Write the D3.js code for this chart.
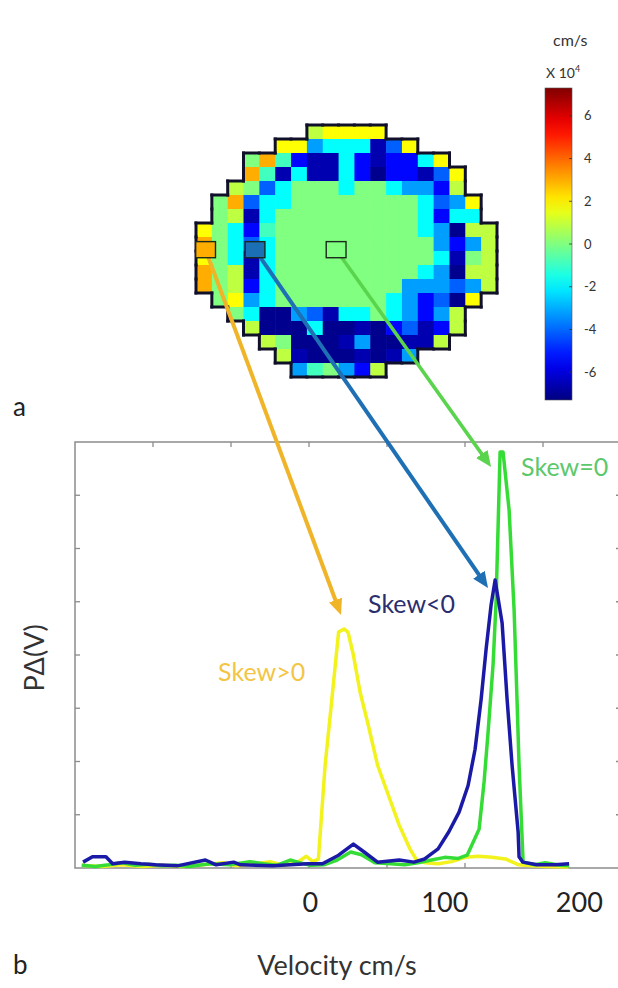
<!DOCTYPE html>
<html lang="en">
<head>
<meta charset="UTF-8">
<title>Velocity skew map</title>
<script src="https://d3js.org/d3.v7.min.js"></script>
<style>
  body { margin: 0; background: #fff; }
  svg { font-family: Lato, "Open Sans", sans-serif; }
</style>
</head>
<body>
<svg id="fig" width="618" height="988"></svg>
<script>
// ---- panel a: velocity map, values x 10^4 cm/s, null = outside the vessel ----
const N = null;
const mapRows = [
  [N,N,N,N,N,N,N,0.9,1.8,1.8,1.8,1.8,N,N,N,N,N,N,N],
  [N,N,N,N,N,1.8,1.8,-3.2,-1.8,-1.8,-1.8,-6.6,-4.1,1.8,N,N,N,N,N],
  [N,N,N,0,3,-0.9,-5.4,-6.6,-6.6,-1.8,-5.4,-6.6,-5.4,-5.4,-1.8,1.8,N,N,N],
  [N,N,N,3,-0.9,-6.6,-1.8,-6.6,-6.6,-1.8,-5.4,-7.1,-5.4,-5.4,-6.6,-4.1,1.8,N,N],
  [N,N,0.9,0,-4.1,-1.8,0,0,0,-1.8,0,0,-1.8,-3.2,-3.2,-5.4,0.9,N,N],
  [N,0,3,-4.1,-1.8,-1.8,0,0,0,0,0,0,0,0,-1.8,-4.1,-3.2,1.8,N],
  [N,0,0.9,-6.6,-1.8,0,0,0,0,0,0,0,0,0,-1.8,-5.4,-1.8,-1.8,N],
  [1.8,0,-1.8,-5.4,-0.9,0,0,0,0,0,0,0,0,0,-1.8,-3.2,-7.1,0.9,0.9],
  [3,0,-1.8,-4.1,-1.8,0,0,0,0,0,0,0,0,0,0,-3.2,-5.4,-3.2,0.9],
  [1.8,0,-1.8,-6.6,-1.8,0,0,0,0,0,0,0,0,0,0,-1.8,-6.6,0,0.9],
  [3,0,0.9,-6.6,-1.8,0,0,0,0,0,0,0,0,0,-1.8,-3.2,-7.1,0.9,0.9],
  [3,0,0.9,-5.4,-1.8,0,0,0,0,0,0,0,0,-3.2,-3.2,-3.2,-4.1,-3.2,0.9],
  [N,0,1.8,-3.2,-1.8,0,0,0,0,0,0,0,-1.8,-3.2,-5.4,-4.1,-7.1,1.8,N],
  [N,N,0,-1.8,-7.1,-7.1,-3.2,-4.1,-6.6,-1.8,-1.8,0,-1.8,-3.2,-5.4,-3.2,0.9,N,N],
  [N,N,N,0.9,-7.1,-7.1,-7.1,-1.8,-7.1,-7.1,-6.6,-7.1,-5.4,-4.1,-6.6,-5.4,0.9,N,N],
  [N,N,N,N,0.9,0,-7.1,-7.1,-7.1,-6.6,-3.2,-7.1,-7.1,-6.6,-6.6,0.9,N,N,N],
  [N,N,N,N,N,0.9,-6.6,-7.1,-7.1,-7.1,-6.6,-7.1,-6.6,-3.2,N,N,N,N,N],
  [N,N,N,N,N,N,-3.2,-0.9,0,-3.2,-5.4,0.9,N,N,N,N,N,N,N]
];
const colorTicks = [-6, -4, -2, 0, 2, 4, 6];
const colorDomain = [-7.3, 7.3];

// probe cells (grid col/row of box centre, value shown in the box)
const probes = [
  { name: "pos",  col: 0.6,  row: 8.9, value: 3.0 },
  { name: "neg",  col: 3.72, row: 8.9, value: -3.7 },
  { name: "zero", col: 8.84, row: 8.9, value: 0 }
];

// ---- panel b: P(V) curves, [velocity cm/s, P] ----
const skewPos = [
  [-170,0.05],[-155,0.03],[-140,0.06],[-125,0.03],[-110,0.05],[-95,0.03],[-80,0.06],[-65,0.1],
  [-55,0.04],[-40,0.08],[-30,0.12],[-20,0.05],[-10,0.1],[-3,0.22],[2,0.12],[6,0.17],[11,1.93],
  [16,3.17],[21,4.43],[25,4.49],[28,4.43],[32,4.0],[37,3.3],[43,2.69],[50,1.93],[59,1.3],
  [66,0.81],[74,0.36],[79,0.15],[85,0.1],[95,0.08],[105,0.12],[115,0.2],[125,0.22],[135,0.2],
  [145,0.17],[155,0.06],[165,0.04],[175,0.03],[192,0.02]
];
const skewNeg = [
  [-169,0.11],[-162,0.21],[-152,0.21],[-147,0.08],[-138,0.11],[-126,0.08],[-115,0.06],[-99,0.04],
  [-78,0.15],[-70,0.06],[-57,0.11],[-52,0.06],[-28,0.04],[-2,0.08],[9,0.08],[21,0.24],[32,0.45],
  [40,0.3],[50,0.11],[66,0.15],[77,0.11],[85,0.17],[95,0.36],[103,0.68],[110.6,1.05],[117.3,1.55],
  [122.5,2.23],[127,3.17],[130.7,4.11],[134.4,4.94],[137.4,5.41],[142.6,4.6],[146.3,3.17],
  [150,1.93],[154.5,0.68],[155.2,0.21],[158,0.11],[168.6,0.06],[182,0.06],[192.4,0.08]
];
const skewZero = [
  [-170,0.05],[-160,0.03],[-150,0.06],[-140,0.1],[-130,0.05],[-120,0.07],[-110,0.04],[-100,0.05],
  [-90,0.03],[-75,0.08],[-60,0.06],[-45,0.12],[-35,0.08],[-25,0.05],[-15,0.15],[-8,0.1],[0,0.05],
  [10,0.06],[20,0.15],[30,0.3],[38,0.25],[48,0.1],[60,0.08],[70,0.06],[80,0.1],[90,0.15],
  [100,0.2],[110,0.18],[116.6,0.24],[125.5,0.73],[129.2,1.62],[132.2,2.56],[135.9,3.83],
  [138.1,5.0],[141.1,7.81],[143.3,7.81],[147.8,6.72],[151.5,4.85],[153.7,3.15],[155.2,1.93],
  [158.2,0.11],[167,0.06],[174.6,0.1],[185.7,0.05],[192.4,0.04]
];
const velocityTicks = [0, 100, 200];

const svg = d3.select("#fig");
svg.append("rect").attr("width", 618).attr("height", 988).attr("fill", "#fff");

// jet colour map
const jet = d3.scaleLinear()
  .domain([0, 0.125, 0.375, 0.625, 0.875, 1])
  .range(["#000080", "#0000ff", "#00ffff", "#ffff00", "#ff0000", "#800000"]);
const cNorm = d3.scaleLinear().domain(colorDomain).range([0, 1]).clamp(true);
const color = v => jet(cNorm(v));

// map grid
const nRows = mapRows.length, nCols = mapRows[0].length;
const xCell = d3.scaleLinear().domain([0, nCols]).range([196, 497]);
const yCell = d3.scaleLinear().domain([0, nRows]).range([125, 377]);
const cells = [];
mapRows.forEach((row, r) => row.forEach((v, c) => { if (v !== null) cells.push({ r, c, v }); }));

svg.append("g").selectAll("rect").data(cells).join("rect")
  .attr("x", d => xCell(d.c)).attr("y", d => yCell(d.r))
  .attr("width", xCell(1) - xCell(0) + 0.6).attr("height", yCell(1) - yCell(0) + 0.6)
  .attr("fill", d => color(d.v));

// vessel outline from the empty neighbours
const inside = (r, c) => r >= 0 && r < nRows && c >= 0 && c < nCols && mapRows[r][c] !== null;
const edges = [];
cells.forEach(({ r, c }) => {
  if (!inside(r - 1, c)) edges.push([c, r, c + 1, r]);
  if (!inside(r + 1, c)) edges.push([c, r + 1, c + 1, r + 1]);
  if (!inside(r, c - 1)) edges.push([c, r, c, r + 1]);
  if (!inside(r, c + 1)) edges.push([c + 1, r, c + 1, r + 1]);
});
svg.append("g").selectAll("line").data(edges).join("line")
  .attr("x1", d => xCell(d[0])).attr("y1", d => yCell(d[1]))
  .attr("x2", d => xCell(d[2])).attr("y2", d => yCell(d[3]))
  .attr("stroke", "#10102a").attr("stroke-width", 3).attr("stroke-linecap", "square");

// colour bar
const cb = { x: 545, w: 27 };
const cbScale = d3.scaleLinear().domain(colorDomain).range([400, 88]);
const defs = svg.append("defs");
const grad = defs.append("linearGradient").attr("id", "jet")
  .attr("x1", 0).attr("y1", 1).attr("x2", 0).attr("y2", 0);
grad.selectAll("stop").data(d3.range(0, 1.0001, 0.05)).join("stop")
  .attr("offset", d => d).attr("stop-color", d => jet(d));
svg.append("rect").attr("x", cb.x).attr("y", cbScale(colorDomain[1]))
  .attr("width", cb.w).attr("height", cbScale(colorDomain[0]) - cbScale(colorDomain[1]))
  .attr("fill", "url(#jet)").attr("stroke", "#555").attr("stroke-width", 0.6);
svg.append("g").selectAll("line").data(colorTicks).join("line")
  .attr("x1", cb.x + cb.w - 3).attr("x2", cb.x + cb.w)
  .attr("y1", d => cbScale(d)).attr("y2", d => cbScale(d))
  .attr("stroke", "#333").attr("stroke-width", 0.8);
svg.append("g").selectAll("text").data(colorTicks).join("text")
  .attr("x", 584).attr("y", d => cbScale(d)).attr("dy", "0.35em")
  .attr("font-size", 13).attr("fill", "#333").text(d => d);
const x10 = svg.append("text").attr("x", 546).attr("y", 78).attr("font-size", 14).attr("fill", "#333").text("X 10");
x10.append("tspan").attr("dy", -6).attr("font-size", 9).text("4");
svg.append("text").attr("x", 553).attr("y", 46).attr("font-size", 16).attr("fill", "#333").text("cm/s");

// ---- panel b axes ----
const x = d3.scaleLinear().domain([-175, 231]).range([75, 621]);
const y = d3.scaleLinear().domain([0, 8]).range([868, 442]);
const tickIdx = d3.scaleLinear().domain([0, 7]).range(x.range());

svg.append("rect").attr("x", 75).attr("y", 442).attr("width", 546).attr("height", 426)
  .attr("fill", "none").attr("stroke", "#8c8c8c").attr("stroke-width", 1.5);
const tk = svg.append("g").attr("stroke", "#8c8c8c").attr("stroke-width", 1.3);
d3.range(1, 7).forEach(i => {
  tk.append("line").attr("x1", tickIdx(i)).attr("x2", tickIdx(i)).attr("y1", 442).attr("y2", 447);
  tk.append("line").attr("x1", tickIdx(i)).attr("x2", tickIdx(i)).attr("y1", 868).attr("y2", 863);
});
y.ticks(8).filter(d => d > 0 && d < 8).forEach(v => {
  tk.append("line").attr("x1", 75).attr("x2", 80).attr("y1", y(v)).attr("y2", y(v));
  tk.append("line").attr("x1", 621).attr("x2", 616).attr("y1", y(v)).attr("y2", y(v));
});

// curves
const line = d3.line().x(d => x(d[0])).y(d => y(d[1]));
const series = [
  { data: skewPos,  stroke: "#f2f21c" },
  { data: skewZero, stroke: "#35dc35" },
  { data: skewNeg,  stroke: "#1a1aa6" }
];
svg.append("g").selectAll("path").data(series).join("path")
  .attr("d", d => line(d.data)).attr("fill", "none")
  .attr("stroke", d => d.stroke).attr("stroke-width", 3.5).attr("stroke-linejoin", "round");

// arrows from probe boxes to peaks
const arrows = [
  { probe: 0, tip: [22.8, 4.75], color: "#f0b428", w: 4 },
  { probe: 1, tip: [132.1, 5.26], color: "#1f6fb5", w: 4 },
  { probe: 2, tip: [134.4, 7.53], color: "#5ad34d", w: 3.5 }
];
arrows.forEach((a, i) => {
  defs.append("marker").attr("id", "head" + i)
    .attr("viewBox", "0 -7 16 14").attr("refX", 6).attr("refY", 0)
    .attr("markerUnits", "userSpaceOnUse").attr("markerWidth", 16).attr("markerHeight", 14)
    .attr("orient", "auto")
    .append("path").attr("d", "M0,-7L16,0L0,7Z").attr("fill", a.color);
  const p = probes[a.probe];
  const x0 = xCell(p.col), y0 = yCell(p.row);
  const x1 = x(a.tip[0]), y1 = y(a.tip[1]);
  const len = Math.hypot(x1 - x0, y1 - y0);
  svg.append("line")
    .attr("x1", x0).attr("y1", y0)
    .attr("x2", x1 - (x1 - x0) / len * 10).attr("y2", y1 - (y1 - y0) / len * 10)
    .attr("stroke", a.color).attr("stroke-width", a.w)
    .attr("marker-end", "url(#head" + i + ")");
});
svg.append("g").selectAll("rect").data(probes).join("rect")
  .attr("x", d => xCell(d.col - 0.62)).attr("y", d => yCell(d.row - 0.57))
  .attr("width", xCell(1.25) - xCell(0)).attr("height", yCell(1.15) - yCell(0))
  .attr("fill", d => d.value === -3.7 ? "#1a6fb5" : color(d.value))
  .attr("stroke", "#1a2a1a").attr("stroke-width", 1.4);

// skew labels
const skewLabels = [
  { text: "Skew=0", v: 156.7, p: 7.53, color: "#5cc86c" },
  { text: "Skew<0", v: 42.9,  p: 4.96, color: "#2b2e6e" },
  { text: "Skew>0", v: -68.6, p: 3.68, color: "#f3c544" }
];
svg.append("g").selectAll("text").data(skewLabels).join("text")
  .attr("x", d => x(d.v)).attr("y", d => y(d.p)).attr("dy", "0.35em")
  .attr("font-size", 25).attr("fill", d => d.color).text(d => d.text);

// velocity labels and titles
svg.append("g").selectAll("text").data(velocityTicks).join("text")
  .attr("x", d => x(d)).attr("y", 903).attr("dy", "0.35em").attr("text-anchor", "middle")
  .attr("font-size", 27).attr("fill", "#222").text(d => d);
svg.append("text").attr("x", 337).attr("y", 966).attr("dy", "0.35em").attr("text-anchor", "middle")
  .attr("font-size", 27).attr("fill", "#333").text("Velocity cm/s");
svg.append("text").attr("transform", "translate(35,658) rotate(-90)").attr("dy", "0.35em")
  .attr("text-anchor", "middle").attr("font-size", 27).attr("fill", "#333").text("PΔ(V)");
svg.append("text").attr("x", 13).attr("y", 407).attr("dy", "0.35em").attr("font-size", 26).attr("fill", "#222").text("a");
svg.append("text").attr("x", 13).attr("y", 965).attr("dy", "0.35em").attr("font-size", 26).attr("fill", "#222").text("b");
</script>
</body>
</html>
